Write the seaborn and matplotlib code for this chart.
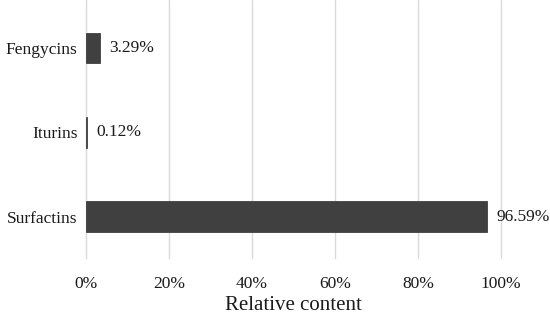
import matplotlib
matplotlib.use('Agg')
import matplotlib.pyplot as plt
import seaborn as sns
import pandas as pd

# Relative content of lipopeptide families
families = ['Fengycins', 'Iturins', 'Surfactins']
content = [3.29, 0.12, 96.59]
xticks = [0, 20, 40, 60, 80, 100]

df = pd.DataFrame({'Family': families, 'Content': content})

sns.set_style('white')
plt.rcParams['font.family'] = ['Liberation Serif', 'DejaVu Serif']

fig = plt.figure(figsize=(5.5, 3.15), dpi=100)
ax = fig.add_axes([0.1564, 0.181, 0.7545, 0.819])

sns.barplot(data=df, x='Content', y='Family', color='#404040', width=0.36,
            saturation=1, edgecolor='#404040', linewidth=0.6, ax=ax, zorder=3)

for i, v in enumerate(content):
    ax.annotate(f'{v:.2f}%', xy=(v, i), xytext=(7, 0), textcoords='offset points',
                va='center', ha='left', fontsize=12.5, color='#1a1a1a')

ax.set_xlim(0, 100)
ax.set_ylim(2.49, -0.57)
ax.set_xticks(xticks)
ax.set_xticklabels([f'{t}%' for t in xticks])
ax.xaxis.grid(True, color='#d9d9d9', linewidth=1, zorder=0)
for gl in ax.get_xgridlines():
    gl.set_clip_on(False)
ax.yaxis.grid(False)
for s in ax.spines.values():
    s.set_visible(False)
ax.tick_params(axis='x', length=0, pad=13, labelsize=12.5, labelcolor='#1a1a1a')
ax.tick_params(axis='y', length=0, pad=6, labelsize=12.5, labelcolor='#1a1a1a')
ax.set_ylabel('')
ax.set_xlabel('Relative content', fontsize=15, labelpad=3, color='#1a1a1a')

fig.savefig('out.png', dpi=100)
